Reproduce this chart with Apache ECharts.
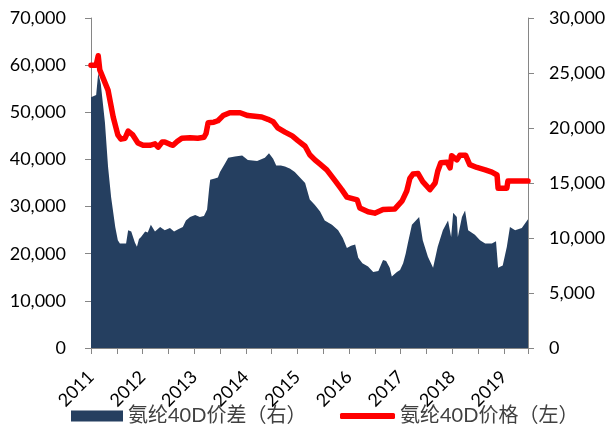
<!DOCTYPE html>
<html>
<head>
<meta charset="utf-8">
<script src="https://cdn.jsdelivr.net/npm/echarts@6/dist/echarts.min.js"></script>
<style>html,body{margin:0;padding:0;background:#fff}#c{width:611px;height:426px}</style>
</head>
<body>
<div id="c"></div>
<script>
// Tick labels (years) on the x axis
var yearLabels = [2011, 2012, 2013, 2014, 2015, 2016, 2017, 2018, 2019];

// 氨纶40D价格（左）: dates as fractional years, values in yuan/t
var priceDates = [2011.00, 2011.10, 2011.14, 2011.17, 2011.33, 2011.43, 2011.52, 2011.58, 2011.66, 2011.72,
  2011.81, 2011.91, 2012.01, 2012.14, 2012.24, 2012.30, 2012.38, 2012.43, 2012.53, 2012.59,
  2012.67, 2012.76, 2012.92, 2013.07, 2013.19, 2013.23, 2013.27, 2013.38, 2013.46, 2013.56,
  2013.69, 2013.89, 2014.04, 2014.31, 2014.43, 2014.53, 2014.62, 2014.76, 2014.90, 2015.01,
  2015.15, 2015.24, 2015.34, 2015.44, 2015.57, 2015.73, 2015.86, 2015.96, 2016.16, 2016.21,
  2016.37, 2016.50, 2016.66, 2016.89, 2017.03, 2017.12, 2017.18, 2017.24, 2017.34, 2017.43,
  2017.57, 2017.67, 2017.72, 2017.78, 2017.90, 2017.96, 2017.99, 2018.09, 2018.15, 2018.26,
  2018.34, 2018.48, 2018.64, 2018.77, 2018.87, 2018.89, 2019.06, 2019.08, 2019.47];
var priceValues = [60000, 60000, 62000, 59000, 54700, 49000, 45200, 44300, 44500, 46000,
  45200, 43500, 43000, 43000, 43300, 42600, 43700, 43700, 43200, 43000,
  43800, 44500, 44600, 44500, 44700, 45500, 47800, 47900, 48200, 49300,
  49900, 49900, 49300, 49000, 48500, 48000, 46700, 45800, 45000, 44000,
  42800, 41000, 39900, 39000, 37800, 35500, 33600, 32000, 31400, 29700,
  28900, 28600, 29400, 29500, 31200, 33300, 36000, 36900, 37000, 35300,
  33600, 35000, 37500, 39300, 39400, 38200, 40800, 39900, 40900, 40900,
  38900, 38300, 37800, 37300, 36700, 33900, 33900, 35400, 35400];

// 氨纶40D价差（右）
var spreadDates = [2011.00, 2011.10, 2011.14, 2011.19, 2011.27, 2011.33, 2011.39, 2011.47, 2011.52, 2011.56,
  2011.68, 2011.72, 2011.78, 2011.85, 2011.89, 2011.93, 2011.97, 2012.05, 2012.10, 2012.16,
  2012.24, 2012.34, 2012.43, 2012.53, 2012.61, 2012.69, 2012.78, 2012.84, 2012.92, 2013.02,
  2013.11, 2013.19, 2013.25, 2013.29, 2013.31, 2013.40, 2013.46, 2013.50, 2013.60, 2013.66,
  2013.79, 2013.93, 2014.04, 2014.22, 2014.37, 2014.45, 2014.53, 2014.59, 2014.68, 2014.76,
  2014.86, 2014.95, 2015.05, 2015.15, 2015.24, 2015.34, 2015.44, 2015.53, 2015.67, 2015.79,
  2015.88, 2015.96, 2016.04, 2016.12, 2016.18, 2016.26, 2016.37, 2016.47, 2016.57, 2016.66,
  2016.72, 2016.79, 2016.83, 2016.93, 2016.99, 2017.05, 2017.10, 2017.14, 2017.22, 2017.32,
  2017.36, 2017.43, 2017.53, 2017.63, 2017.72, 2017.82, 2017.92, 2017.98, 2018.02, 2018.09,
  2018.11, 2018.19, 2018.25, 2018.31, 2018.44, 2018.54, 2018.64, 2018.77, 2018.85, 2018.89,
  2018.98, 2019.06, 2019.12, 2019.22, 2019.35, 2019.47];
var spreadValues = [22800, 23000, 25000, 24000, 20500, 16500, 13700, 11000, 9800, 9500,
  9500, 10700, 10600, 9600, 9200, 9900, 10100, 10600, 10500, 11200,
  10600, 11000, 10700, 10900, 10600, 10800, 11000, 11600, 11900, 12100,
  11900, 12000, 12600, 14500, 15300, 15400, 15500, 16000, 16800, 17300,
  17400, 17500, 17100, 17000, 17300, 17700, 17200, 16600, 16600, 16500,
  16300, 16000, 15500, 15000, 13500, 13000, 12400, 11600, 11200, 10700,
  10000, 9100, 9300, 9400, 8200, 7700, 7400, 6900, 7000, 8000,
  7900, 7300, 6500, 6900, 7100, 7700, 8600, 9500, 11200, 11700,
  11900, 9800, 8300, 7300, 9200, 10700, 11600, 10100, 12300, 11900,
  10100, 11900, 12500, 10700, 10300, 9800, 9500, 9500, 9700, 7300,
  7500, 9200, 11000, 10700, 10900, 11700];

var seriesNames = ['氨纶40D价差（右）', '氨纶40D价格（左）'];

function pairs(xs, ys) { return xs.map(function (x, i) { return [x, ys[i]]; }); }
function commas(v) { return Number(v).toLocaleString('en-US'); }

var axisColor = '#868686';
var fontFam = "Lato, 'Noto Sans CJK SC', sans-serif";
var chart = echarts.init(document.getElementById('c'), null, { renderer: 'canvas' });
chart.setOption({
  animation: false,
  textStyle: { fontFamily: fontFam },
  grid: { left: 91, right: 83, top: 18, bottom: 78, containLabel: false },
  legend: [{
    left: 66, top: 401, itemWidth: 52, itemHeight: 11, icon: 'rect',
    data: [seriesNames[0]],
    textStyle: { fontSize: 20, color: '#404040', fontFamily: fontFam }
  }, {
    left: 335, top: 401, itemWidth: 55, itemHeight: 6, icon: 'roundRect',
    data: [seriesNames[1]],
    textStyle: { fontSize: 20, color: '#404040', fontFamily: fontFam }
  }],
  xAxis: {
    type: 'value', min: yearLabels[0], max: 2019.47, interval: 0.5,
    axisLine: { show: true, onZero: false, lineStyle: { color: axisColor, width: 1 } },
    axisTick: { show: true, length: 6, lineStyle: { color: axisColor } },
    splitLine: { show: false },
    axisLabel: {
      rotate: 45, margin: 26, fontSize: 18, color: '#000', fontFamily: fontFam,
      showMinLabel: true, showMaxLabel: true,
      formatter: function (v) {
        var r = Math.round(v);
        return (Math.abs(v - r) < 1e-6 && yearLabels.indexOf(r) >= 0) ? String(r) : '';
      }
    }
  },
  yAxis: [{
    type: 'value', min: 0, max: 70000, interval: 10000, position: 'left',
    axisLine: { show: true, onZero: false, lineStyle: { color: axisColor, width: 1 } },
    axisTick: { show: true, length: 6, lineStyle: { color: axisColor } },
    splitLine: { show: false },
    axisLabel: { margin: 25, fontSize: 18, color: '#000', fontFamily: fontFam, formatter: commas }
  }, {
    type: 'value', min: 0, max: 30000, interval: 5000, position: 'right',
    axisLine: { show: true, onZero: false, lineStyle: { color: axisColor, width: 1 } },
    axisTick: { show: true, length: 6, lineStyle: { color: axisColor } },
    splitLine: { show: false },
    axisLabel: { margin: 21, fontSize: 18, color: '#000', fontFamily: fontFam, formatter: commas }
  }],
  series: [{
    name: seriesNames[0], type: 'line', yAxisIndex: 1,
    data: pairs(spreadDates, spreadValues),
    showSymbol: false, symbol: 'none',
    lineStyle: { width: 0 },
    itemStyle: { color: '#253F60' },
    areaStyle: { color: '#253F60', opacity: 1 },
    z: 1
  }, {
    name: seriesNames[1], type: 'line', yAxisIndex: 0,
    data: pairs(priceDates, priceValues),
    showSymbol: false, symbol: 'none',
    lineStyle: { width: 5.5, color: '#FF0000', join: 'round', cap: 'round' },
    itemStyle: { color: '#FF0000' },
    z: 3
  }]
});
</script>
</body>
</html>
